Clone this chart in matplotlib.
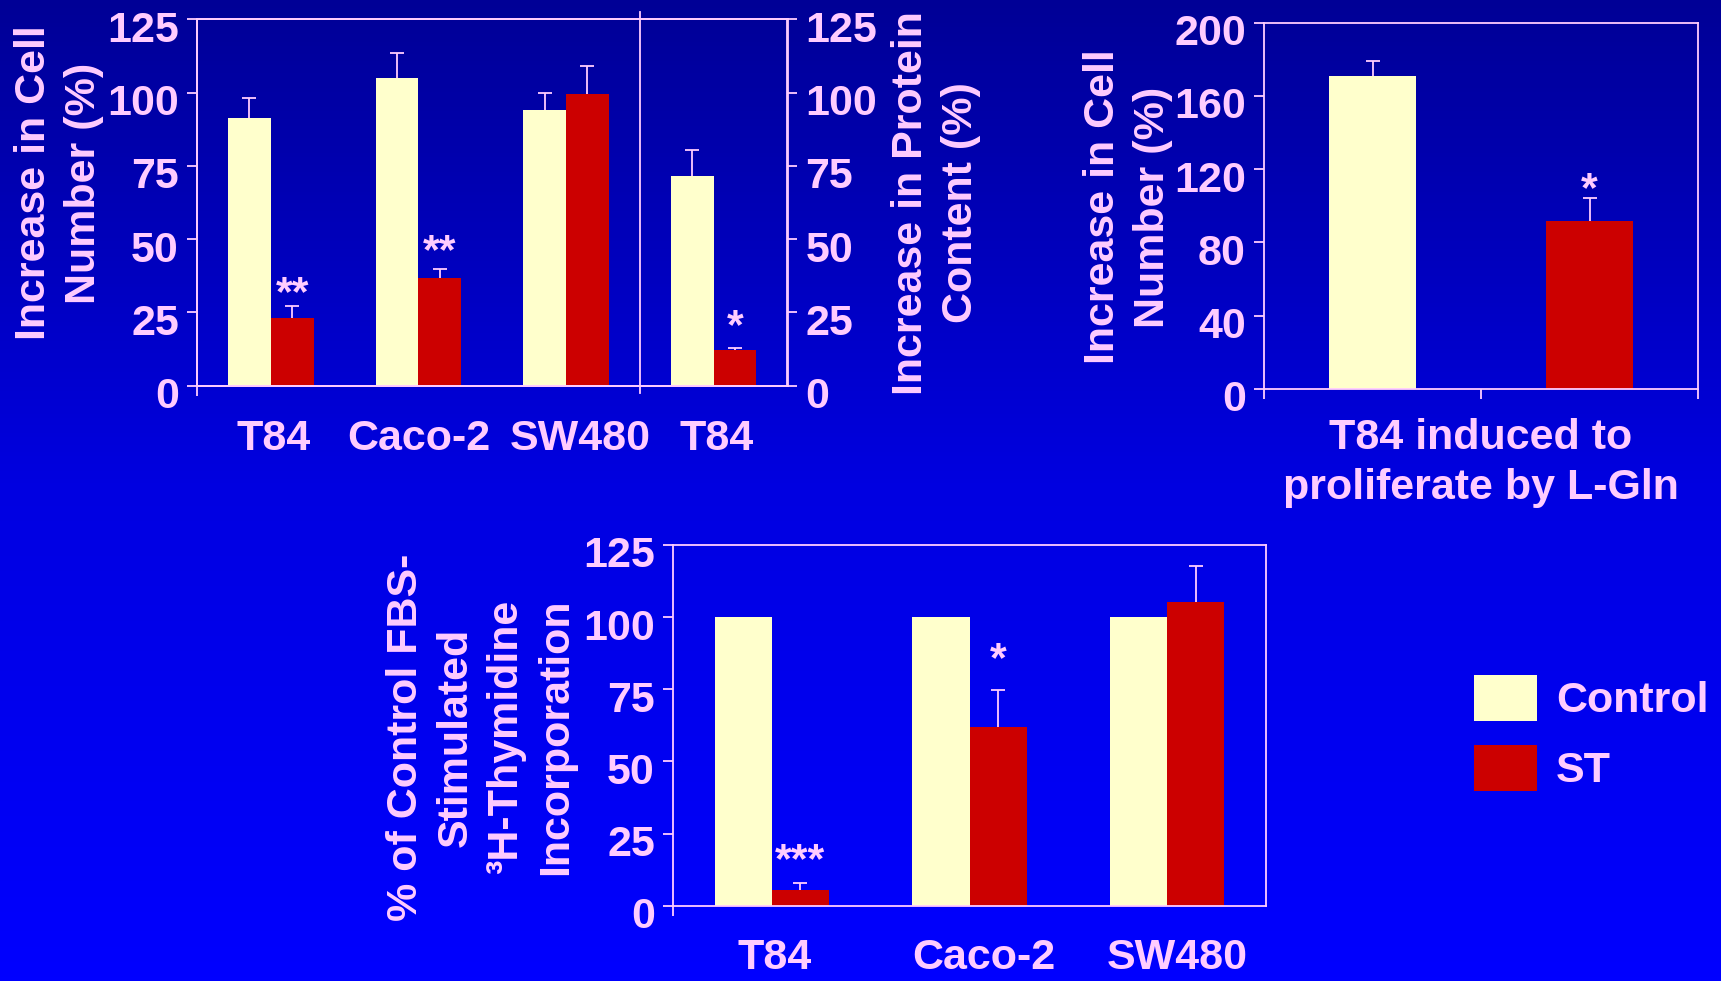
# Cell growth panels: cell number, protein, L-Gln proliferation and thymidine uptake.

import numpy as np
from matplotlib import pyplot as plt
from matplotlib.patches import Patch
from matplotlib.transforms import ScaledTranslation

plt.rcParams["font.family"] = ["Liberation Sans", "DejaVu Sans"]
plt.rcParams["font.weight"] = "bold"

PINK = "#FFCCFF"
CTRL_COLOR = "#FFFFCC"
ST_COLOR = "#CC0000"
FS = 31
W, H = 1721, 981

# panel 1: cell number (3 lines) + protein content (T84)
p1_labels = ["T84", "Caco-2", "SW480", "T84"]
p1_ctrl = [91.3, 105.0, 94.0, 71.5]
p1_ctrl_err = [7.0, 8.4, 5.7, 9.0]
p1_st = [23.0, 36.8, 99.5, 12.2]
p1_st_err = [4.3, 2.9, 9.7, 0.8]
p1_stars = ["**", "**", "", "*"]
p1_star_y = [36.0, 50.3, 0.0, 24.7]
p1_yticks = [0, 25, 50, 75, 100, 125]

# panel 2: T84 induced to proliferate by L-Gln
p2_ctrl, p2_ctrl_err = 170.7, 8.6
p2_st, p2_st_err = 92.0, 12.3
p2_star, p2_star_y = "*", 116.0
p2_yticks = [0, 40, 80, 120, 160, 200]

# panel 3: 3H-thymidine incorporation
p3_labels = ["T84", "Caco-2", "SW480"]
p3_ctrl = [100.0, 100.0, 100.0]
p3_st = [5.4, 61.8, 105.2]
p3_st_err = [2.3, 12.8, 12.6]
p3_stars = ["***", "*", ""]
p3_star_y = [20.4, 89.8, 0.0]
p3_yticks = [0, 25, 50, 75, 100, 125]


def px(x, y):
    """Pixel position to figure fraction."""
    return x / W, 1 - y / H


def box(x0, y0, x1, y1):
    """Axes rectangle from pixel corners."""
    return [x0 / W, 1 - y1 / H, (x1 - x0) / W, (y1 - y0) / H]


def style_axes(ax, yticks, right=False, xpad=22):
    ax.set_facecolor("none")
    for s in ax.spines.values():
        s.set_color(PINK)
        s.set_linewidth(1.3)
    ax.set_ylim(yticks[0], yticks[-1])
    ax.set_yticks(yticks)
    ax.tick_params(axis="y", colors=PINK, labelsize=FS, length=7, width=1.3,
                   pad=6, direction="out", right=right, labelright=right,
                   left=not right, labelleft=not right)
    ax.tick_params(axis="x", which="major", colors=PINK, labelsize=FS,
                   length=0, pad=xpad)
    ax.tick_params(axis="x", which="minor", color=PINK, length=7, width=1.3)
    off = ScaledTranslation(0, -5 / 72, ax.figure.dpi_scale_trans)
    for lab in ax.yaxis.get_majorticklabels():
        lab.set_transform(lab.get_transform() + off)


def nudge_xlabels(ax, shifts_pt):
    """Small horizontal shifts of the category labels, as in the slide."""
    for lab, dx in zip(ax.xaxis.get_majorticklabels(), shifts_pt):
        off = ScaledTranslation(dx / 72, 0, ax.figure.dpi_scale_trans)
        lab.set_transform(lab.get_transform() + off)


def draw_err(ax, x, vals, errs):
    tops = np.asarray(vals) + np.asarray(errs)
    ax.vlines(x, vals, tops, color=PINK, lw=1.3, zorder=3)
    ax.plot(x, tops, ls="none", marker="_", ms=10, mew=1.3, color=PINK,
            zorder=3)


def draw_stars(ax, x, stars, ys):
    for xi, s, y in zip(x, stars, ys):
        if s:
            ax.annotate(s, (xi, y), xytext=(0, -0.58 * FS),
                        textcoords="offset points", ha="center",
                        va="baseline", color=PINK, fontsize=FS)


fig = plt.figure(figsize=(W / 100, H / 100), dpi=100)

# gradient background
bg = fig.add_axes([0, 0, 1, 1], zorder=-10)
blue = np.interp(np.linspace(0, 1, 256), [0, 0.5, 1], [150, 225, 255]) / 255
grad = np.zeros((256, 1, 3))
grad[:, 0, 2] = blue
bg.imshow(grad, aspect="auto", extent=[0, 1, 0, 1])
bg.axis("off")

bw = 0.29

# panel 1
ax1 = fig.add_axes(box(197, 19.3, 787.5, 385.7))
x1 = np.arange(len(p1_labels))
ax1.bar(x1 - bw / 2, p1_ctrl, bw, color=CTRL_COLOR, zorder=2)
ax1.bar(x1 + bw / 2, p1_st, bw, color=ST_COLOR, zorder=2)
draw_err(ax1, x1 - bw / 2, p1_ctrl, p1_ctrl_err)
draw_err(ax1, x1 + bw / 2, p1_st, p1_st_err)
draw_stars(ax1, x1 + bw / 2, p1_stars, p1_star_y)
ax1.set_xlim(-0.5, 3.5)
ax1.set_xticks(x1)
ax1.set_xticklabels(p1_labels)
ax1.set_xticks([-0.5], minor=True)
ax1.axvline(2.5, ymin=-0.02, ymax=1.02, color=PINK, lw=1.3, clip_on=False)
style_axes(ax1, p1_yticks, xpad=24)
nudge_xlabels(ax1, [2, 0, 10, 2])
ax1r = ax1.twinx()
style_axes(ax1r, p1_yticks, right=True)

# panel 2
ax2 = fig.add_axes(box(1264, 22.7, 1698, 389))
ax2.bar([0.5], [p2_ctrl], 0.4, color=CTRL_COLOR, zorder=2)
ax2.bar([1.5], [p2_st], 0.4, color=ST_COLOR, zorder=2)
draw_err(ax2, [0.5, 1.5], [p2_ctrl, p2_st], [p2_ctrl_err, p2_st_err])
draw_stars(ax2, [1.5], [p2_star], [p2_star_y])
ax2.set_xlim(0, 2)
ax2.set_xticks([])
ax2.set_xticks([0, 1, 2], minor=True)
style_axes(ax2, p2_yticks)

# panel 3
ax3 = fig.add_axes(box(673, 545, 1266, 905.7))
x3 = np.arange(len(p3_labels))
ax3.bar(x3 - bw / 2, p3_ctrl, bw, color=CTRL_COLOR, zorder=2)
ax3.bar(x3 + bw / 2, p3_st, bw, color=ST_COLOR, zorder=2)
draw_err(ax3, x3 + bw / 2, p3_st, p3_st_err)
draw_stars(ax3, x3 + bw / 2, p3_stars, p3_star_y)
ax3.set_xlim(-0.5, 2.5)
ax3.set_xticks(x3)
ax3.set_xticklabels(p3_labels)
ax3.set_xticks([-0.5], minor=True)
style_axes(ax3, p3_yticks, xpad=23)
nudge_xlabels(ax3, [2, 10, 7])

# axis titles
lab = dict(rotation=90, ha="center", va="center", ma="center", color=PINK,
           fontsize=FS, linespacing=1.33)
fig.text(*px(59, 183), "Increase in Cell\nNumber (%)", **lab)
fig.text(*px(936, 203), "Increase in Protein\nContent (%)", **lab)
fig.text(*px(1128, 207), "Increase in Cell\nNumber (%)", **lab)
fig.text(*px(481, 737),
         "% of Control FBS-\nStimulated\n\u00b3H-Thymidine\nIncorporation",
         **lab)
fig.text(*px(1481, 463), "T84 induced to\nproliferate by L-Gln", ha="center",
         va="center", ma="center", color=PINK, fontsize=FS, linespacing=1.33)

# legend
handles = [Patch(facecolor=CTRL_COLOR), Patch(facecolor=ST_COLOR)]
leg = fig.legend(handles, ["Control", "ST"], loc="upper left",
                 bbox_to_anchor=px(1474, 675), frameon=False, fontsize=FS,
                 handlelength=1.46, handleheight=1.26, handletextpad=0.45,
                 labelspacing=0.55, borderpad=0, borderaxespad=0)
for t in leg.get_texts():
    t.set_color(PINK)

fig.savefig("out.png", dpi=100)
